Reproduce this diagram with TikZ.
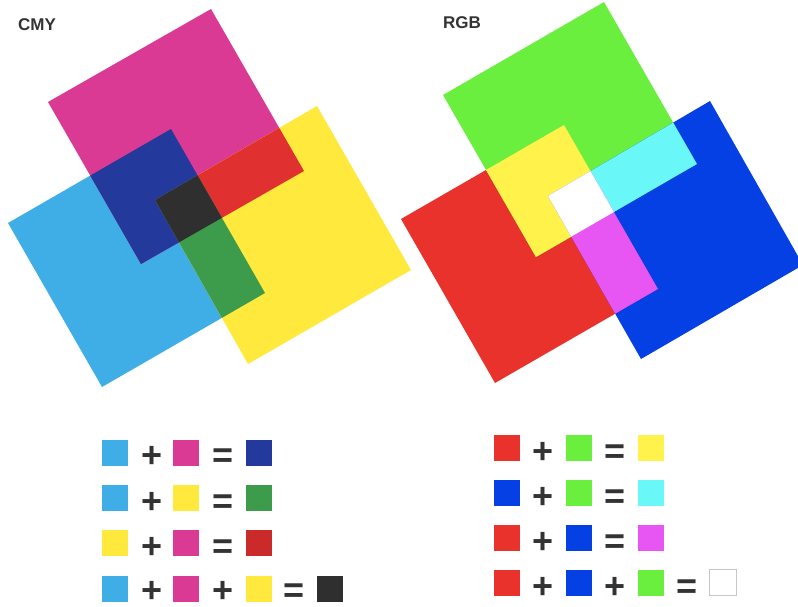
\documentclass[tikz,border=0pt]{standalone}
\usepackage{fontspec}
\setmainfont{Liberation Sans}
\definecolor{cC}{HTML}{3FAEE6}
\definecolor{cM}{HTML}{DA3A94}
\definecolor{cY}{HTML}{FFE93D}
\definecolor{cCM}{HTML}{23399B}
\definecolor{cMY}{HTML}{E0302F}
\definecolor{cCY}{HTML}{3D9B4C}
\definecolor{cK}{HTML}{2F2F2F}
\definecolor{rR}{HTML}{E9322C}
\definecolor{rG}{HTML}{6BEF3E}
\definecolor{rB}{HTML}{0440E3}
\definecolor{rRG}{HTML}{FFF24A}
\definecolor{rGB}{HTML}{6AF7F7}
\definecolor{rRB}{HTML}{E756F2}
\definecolor{txt}{HTML}{333333}
\tikzset{
  sw/.style={minimum width=26pt,minimum height=26pt,inner sep=0pt,fill=#1},
  op/.style={text=txt,font=\bfseries\fontsize{36}{36}\selectfont,inner sep=0pt,
    text height=21.6pt,text depth=-3.6pt},
  title/.style={text=txt,font=\bfseries\fontsize{17}{17}\selectfont,inner sep=0pt}
}
\begin{document}
\begin{tikzpicture}[x=1pt,y=-1pt]
\useasboundingbox (0,0) rectangle (798,606);
\clip (0,0) rectangle (798,606);
% ---------- CMY ----------
\def\sqC{(8,223) -- (171,129) -- (265,293) -- (102,387) -- cycle}
\def\sqM{(48,102) -- (211,9) -- (304,171) -- (141,264) -- cycle}
\def\sqY{(155,200) -- (317,106) -- (411,270) -- (248,364) -- cycle}
\fill[cC] \sqC;
\fill[cM] \sqM;
\fill[cY] \sqY;
\begin{scope}\clip \sqC; \fill[cCM] \sqM; \end{scope}
\begin{scope}\clip \sqM; \fill[cMY] \sqY; \end{scope}
\begin{scope}\clip \sqC; \fill[cCY] \sqY; \end{scope}
\begin{scope}\clip \sqC; \clip \sqM; \fill[cK] \sqY; \end{scope}
\node[title,anchor=west] (tcmy) at (18,25) {CMY};
% ---------- RGB ----------
\def\sqR{(401,219) -- (564,125) -- (658,289) -- (495,383) -- cycle}
\def\sqG{(443,95) -- (604,2) -- (697,164) -- (536,257) -- cycle}
\def\sqB{(548,196) -- (710,101) -- (803,265) -- (641,359) -- cycle}
\fill[rR] \sqR;
\fill[rG] \sqG;
\fill[rB] \sqB;
\begin{scope}\clip \sqR; \fill[rRG] \sqG; \end{scope}
\begin{scope}\clip \sqG; \fill[rGB] \sqB; \end{scope}
\begin{scope}\clip \sqR; \fill[rRB] \sqB; \end{scope}
\begin{scope}\clip \sqR; \clip \sqG; \fill[white] \sqB; \end{scope}
\node[title,anchor=west] (trgb) at (443,22.5) {RGB};
% ---------- CMY equations ----------
\node[sw=cC]  (a1) at (115,452.5) {};
\node[op]     (a1p) at (152,457) {+};
\node[sw=cM]  (a1b) at (186,452.5) {};
\node[op]     (a1e) at (223,457) {=};
\node[sw=cCM] (a1r) at (258.5,452.5) {};
\node[sw=cC]  (a2) at (115,498) {};
\node[op]     (a2p) at (152,502.5) {+};
\node[sw=cY]  (a2b) at (186,498) {};
\node[op]     (a2e) at (223,502.5) {=};
\node[sw=cCY] (a2r) at (258.5,498) {};
\node[sw=cY]  (a3) at (115,543) {};
\node[op]     (a3p) at (152,547.5) {+};
\node[sw=cM]  (a3b) at (186,543) {};
\node[op]     (a3e) at (223,547.5) {=};
\node[sw=cMY!90!black] (a3r) at (258.5,543) {};
\node[sw=cC]  (a4) at (115,588.5) {};
\node[op]     (a4p) at (152,592) {+};
\node[sw=cM]  (a4b) at (186,588.5) {};
\node[op]     (a4p2) at (223,592) {+};
\node[sw=cY]  (a4c) at (258.5,588.5) {};
\node[op]     (a4e) at (294,592) {=};
\node[sw=cK]  (a4r) at (330,588.5) {};
% ---------- RGB equations ----------
\node[sw=rR]  (b1) at (506.5,447.5) {};
\node[op]     (b1p) at (543,452.5) {+};
\node[sw=rG]  (b1b) at (578.5,447.5) {};
\node[op]     (b1e) at (615,452.5) {=};
\node[sw=rRG] (b1r) at (650.5,447.5) {};
\node[sw=rB]  (b2) at (506.5,492.5) {};
\node[op]     (b2p) at (543,497.5) {+};
\node[sw=rG]  (b2b) at (578.5,492.5) {};
\node[op]     (b2e) at (615,497.5) {=};
\node[sw=rGB] (b2r) at (650.5,492.5) {};
\node[sw=rR]  (b3) at (506.5,537.5) {};
\node[op]     (b3p) at (543,542.5) {+};
\node[sw=rB]  (b3b) at (578.5,537.5) {};
\node[op]     (b3e) at (615,542.5) {=};
\node[sw=rRB] (b3r) at (650.5,537.5) {};
\node[sw=rR]  (b4) at (506.5,582.5) {};
\node[op]     (b4p) at (543,587.5) {+};
\node[sw=rB]  (b4b) at (578.5,582.5) {};
\node[op]     (b4p2) at (615,587.5) {+};
\node[sw=rG]  (b4c) at (650.5,582.5) {};
\node[op]     (b4e) at (687,587.5) {=};
\node[sw=white,draw=black!22,line width=1pt,minimum width=27pt,minimum height=26pt] (b4r) at (723,582.5) {};
\end{tikzpicture}
\end{document}
